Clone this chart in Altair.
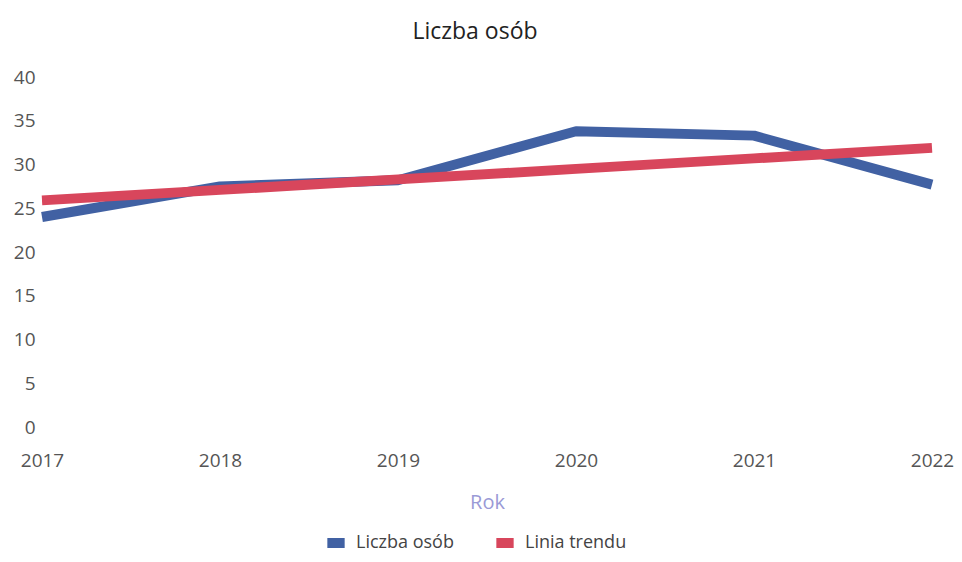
import altair as alt
import pandas as pd

years = [2017, 2018, 2019, 2020, 2021, 2022]
liczba = [24.0, 27.5, 28.2, 33.8, 33.3, 27.7]
trend = [25.9, 27.1, 28.3, 29.5, 30.7, 31.9]
series = ["Liczba osób", "Linia trendu"]
colors = ["#4161A3", "#D8465C"]

rows = []
for y, v in zip(years, liczba):
    rows.append({"Rok": str(y), "Wartość": v, "Seria": series[0]})
for y, v in zip(years, trend):
    rows.append({"Rok": str(y), "Wartość": v, "Seria": series[1]})
df = pd.DataFrame(rows)

FONT = "Open Sans"

chart = (
    alt.Chart(df)
    .mark_line(strokeWidth=10, strokeCap="butt", strokeJoin="round")
    .encode(
        x=alt.X(
            "Rok:O",
            scale=alt.Scale(type="point", padding=0),
            axis=alt.Axis(
                title="Rok",
                labelAngle=0,
                labelFontSize=19,
                labelColor="#555555",
                labelFont=FONT,
                labelPadding=24,
                titleFontSize=20,
                titleColor="#9A9AD6",
                titleFont=FONT,
                titleFontWeight="normal",
                titlePadding=22,
                domain=False,
                ticks=False,
                grid=False,
            ),
        ),
        y=alt.Y(
            "Wartość:Q",
            scale=alt.Scale(domain=[0, 40]),
            axis=alt.Axis(
                title=None,
                values=[0, 5, 10, 15, 20, 25, 30, 35, 40],
                labelFontSize=19,
                labelColor="#555555",
                labelFont=FONT,
                labelPadding=7,
                domain=False,
                ticks=False,
                grid=False,
            ),
        ),
        color=alt.Color(
            "Seria:N",
            scale=alt.Scale(domain=series, range=colors),
            legend=alt.Legend(
                title=None,
                orient="none",
                direction="horizontal",
                legendX=280,
                legendY=452,
                labelFontSize=18,
                labelColor="#444444",
                labelFont=FONT,
                symbolType="stroke",
                symbolSize=300,
                symbolStrokeWidth=10,
                symbolOpacity=1,
                columnPadding=22,
                labelOffset=6,
            ),
        ),
    )
    .properties(
        width=890,
        height=350,
        padding={"left": 34, "top": 69, "right": 22, "bottom": 127},
        autosize=alt.AutoSizeParams(type="none"),
        title=alt.TitleParams(
            "Liczba osób",
            fontSize=23,
            font=FONT,
            fontWeight="normal",
            color="#222222",
            anchor="middle",
            dx=-12,
            offset=24,
        ),
    )
    .configure_view(stroke=None)
)

chart.save("out.html", embed_options={"renderer": "svg", "actions": False})
